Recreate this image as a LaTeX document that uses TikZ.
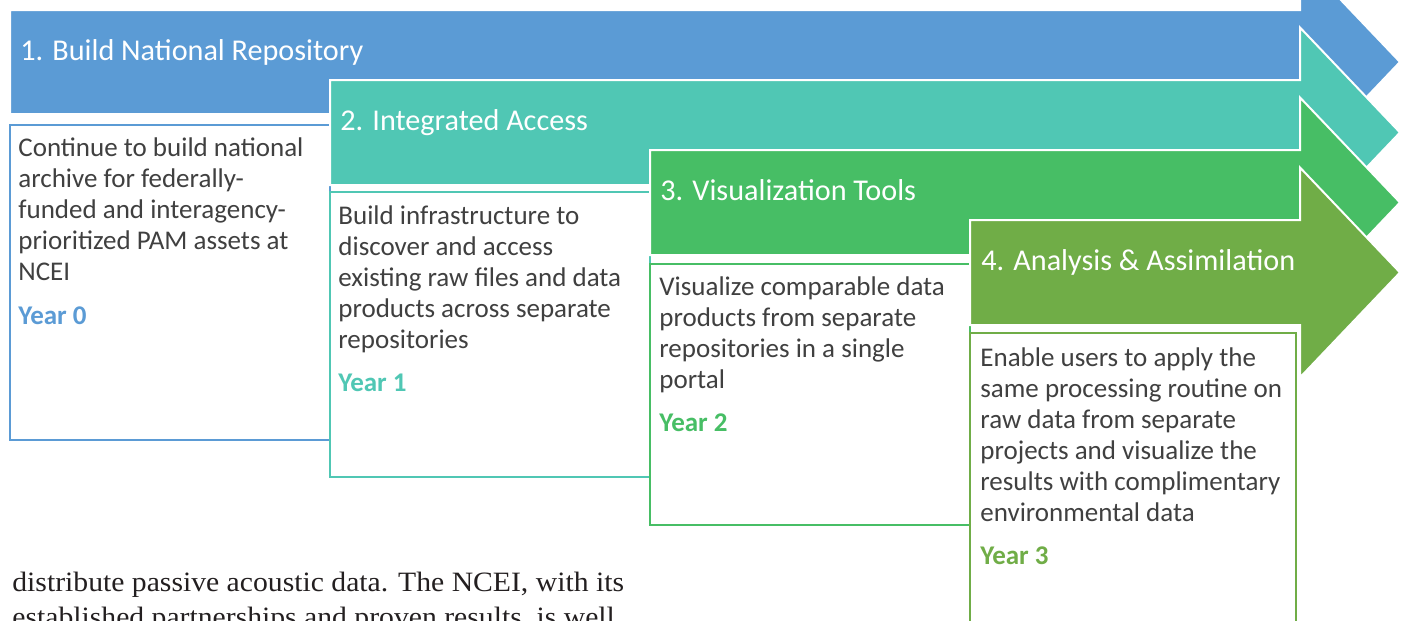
\documentclass[tikz,border=0pt]{standalone}
\usepackage{fontspec}
\setmainfont{Carlito}
\newfontfamily\serifbody{Liberation Serif}
\definecolor{cBlue}{RGB}{91,155,213}
\definecolor{cTeal}{RGB}{80,199,180}
\definecolor{cGreen}{RGB}{71,190,101}
\definecolor{cOlive}{RGB}{112,173,71}
\definecolor{cText}{RGB}{64,64,64}
\definecolor{cPara}{RGB}{35,31,32}
\begin{document}
\begin{tikzpicture}[x=0.5pt,y=-0.5pt,
  arrowshape/.style={fill=#1, draw=white, line width=1pt, line join=miter},
  boxshape/.style={draw=#1, fill=white, line width=0.7pt},
  title/.style={anchor=base west, inner sep=0pt, text=white, font=\fontsize{15.1}{18}\selectfont},
  % anchor base = baseline of the LAST line of a multi-line node
  body/.style={anchor=base west, inner sep=0pt, text=cText, align=left, font=\fontsize{13.5}{15.5}\selectfont},
  year/.style={anchor=base west, inner sep=0pt, text=#1, font=\fontsize{13.5}{15.5}\selectfont\bfseries},
  para/.style={anchor=base west, inner sep=0pt, text=cPara, font=\serifbody\fontsize{14}{17}\selectfont},
]
\useasboundingbox (0,0) rectangle (1403,621);
\clip (0,0) rectangle (1403,621);

% description boxes
\draw[boxshape=cBlue]  (10,125)  rectangle (330,440);
\draw[boxshape=cTeal]  (330,192) rectangle (650,477);
\draw[boxshape=cGreen] (650,264) rectangle (970,525);
\draw[boxshape=cOlive] (970,333) rectangle (1296,660);

% arrows
\filldraw[arrowshape=cBlue]  (10,10)  -- (1300,10)  -- (1300,-43)   -- (1400,62)    -- (1300,167)   -- (1300,114) -- (10,114)  -- cycle;
\filldraw[arrowshape=cTeal]  (330,80) -- (1300,80)  -- (1300,27.5)  -- (1400,132.5) -- (1300,237.5) -- (1300,185) -- (330,185) -- cycle;
\filldraw[arrowshape=cGreen] (650,150) -- (1300,150) -- (1300,97.5) -- (1400,202.5) -- (1300,307.5) -- (1300,255) -- (650,255) -- cycle;
\filldraw[arrowshape=cOlive] (970,220) -- (1300,220) -- (1300,167.5) -- (1400,272.5) -- (1300,377.5) -- (1300,325) -- (970,325) -- cycle;

% titles
\node[title] (t1) at (20,60)  {1. Build National Repository};
\node[title] (t2) at (340,130) {2. Integrated Access};
\node[title] (t3) at (660,200) {3. Visualization Tools};
\node[title] (t4) at (981,270) {4. Analysis \& Assimilation};

% descriptions (positioned at the baseline of their last line)
\node[body] (d1) at (18,280) {Continue to build national\\archive for federally-\\funded and interagency-\\prioritized PAM assets at\\NCEI};
\node[year=cBlue] (y1) at (18,324) {Year 0};
\node[body] (d2) at (338,348) {Build infrastructure to\\discover and access\\existing raw files and data\\products across separate\\repositories};
\node[year=cTeal] (y2) at (338,391) {Year 1};
\node[body] (d3) at (659,388) {Visualize comparable data\\products from separate\\repositories in a single\\portal};
\node[year=cGreen] (y3) at (659,431) {Year 2};
\node[body] (d4) at (980,521) {Enable users to apply the\\same processing routine on\\raw data from separate\\projects and visualize the\\results with complimentary\\environmental data};
\node[year=cOlive] (y4) at (980,564) {Year 3};

% running text below
\node[para] (p1) at (12,591) {\scalebox{1.06}[1]{distribute passive acoustic data. The NCEI, with its}};
\node[para] (p2) at (12,626) {\scalebox{1.06}[1]{established partnerships and proven results, is well}};
\end{tikzpicture}
\end{document}
